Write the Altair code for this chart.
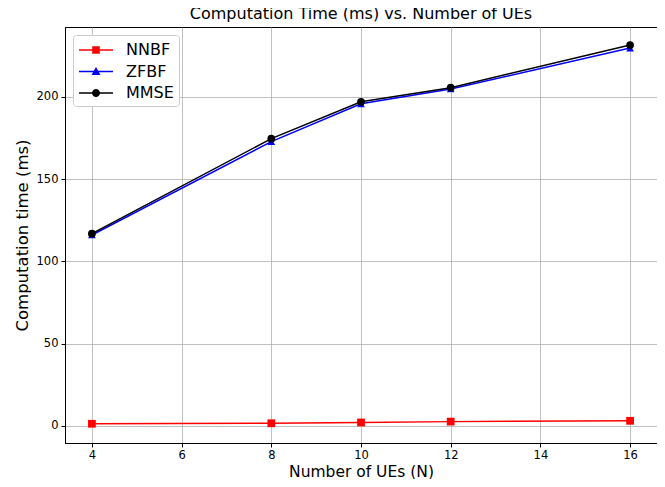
import altair as alt
import pandas as pd

ues = [4, 8, 10, 12, 16]
nnbf = [1.2, 1.5, 2.0, 2.5, 3.0]
zfbf = [116.0, 172.8, 195.8, 204.8, 229.7]
mmse = [116.8, 174.6, 197.0, 205.6, 231.5]

series = ["NNBF", "ZFBF", "MMSE"]
colors = ["#ff0000", "#0000ff", "#000000"]
shapes = ["square", "triangle-up", "circle"]
# legend symbols: a line segment plus the marker (filled paths)
legend_paths = [
    "M-0.9,-0.075H2.5V0.075H-0.9Z M0.42,-0.38H1.18V0.38H0.42Z",
    "M-0.9,-0.075H2.5V0.075H-0.9Z M0.8,-0.45L1.25,0.35L0.35,0.35Z",
    "M-0.9,-0.075H2.5V0.075H-0.9Z M0.4,0A0.4,0.4 0 1,1 1.2,0A0.4,0.4 0 1,1 0.4,0Z",
]

rows = []
for name, vals in zip(series, [nnbf, zfbf, mmse]):
    for n, v in zip(ues, vals):
        rows.append({"N": n, "series": name, "time": v})
df = pd.DataFrame(rows)

FONT = "DejaVu Sans"

x = alt.X("N:Q", scale=alt.Scale(domain=[3.4, 16.6], nice=False, zero=False),
          axis=alt.Axis(values=[4, 6, 8, 10, 12, 14, 16], title="Number of UEs (N)", format="d"))
y = alt.Y("time:Q", scale=alt.Scale(domain=[-10.5, 242.5], nice=False, zero=False),
          axis=alt.Axis(values=[0, 50, 100, 150, 200], title="Computation time (ms)", format="d"))

base = alt.Chart(df)
layers = []
for name, col, shp in zip(series, colors, shapes):
    sub = base.transform_filter(alt.datum.series == name)
    layers.append(sub.mark_line(color=col, strokeWidth=1.5).encode(x=x, y=y))
    layers.append(sub.mark_point(shape=shp, filled=True, color=col, size=60, opacity=1).encode(x=x, y=y))

legend_layer = base.mark_point(filled=True, opacity=0).encode(
    x=x, y=y,
    color=alt.Color("series:N", scale=alt.Scale(domain=series, range=colors),
                    legend=alt.Legend(title=None, symbolOpacity=1)),
    shape=alt.Shape("series:N", scale=alt.Scale(domain=series, range=legend_paths),
                    legend=alt.Legend(title=None, symbolOpacity=1)),
)
layers.append(legend_layer)

chart = alt.layer(*layers).properties(
    width=592, height=416,
    title=alt.Title("Computation Time (ms) vs. Number of UEs"),
    autosize=alt.AutoSizeParams(type="none"),
    padding={"left": 57, "top": 19, "right": 0, "bottom": 36},
).configure_view(
    stroke="black", strokeWidth=1
).configure_axis(
    domainColor="black", tickColor="black", tickSize=4, labelFontSize=11.5,
    labelColor="black", labelFont=FONT, titleFont=FONT, titleFontSize=16.5,
    titleFontWeight="normal", titleColor="black", gridColor="#b0b0b0", gridWidth=0.8,
    labelPadding=3,
).configure_axisX(
    titleFontSize=15.5, titleBaseline="alphabetic", titleY=33, labelPadding=2.5
).configure_axisY(
    titlePadding=6
).configure_title(
    font=FONT, fontSize=16, fontWeight="normal", color="black", offset=5,
    anchor="middle", baseline="alphabetic"
).configure_legend(
    orient="top-left", offset=8, padding=5, rowPadding=3.5, symbolSize=400,
    symbolStrokeWidth=0, labelOffset=28, labelFont=FONT, labelFontSize=16,
    labelColor="black", strokeColor="#cccccc", cornerRadius=3, fillColor="white",
    labelLimit=300,
)

chart.save("out.html", embed_options={"renderer": "svg", "actions": False})
